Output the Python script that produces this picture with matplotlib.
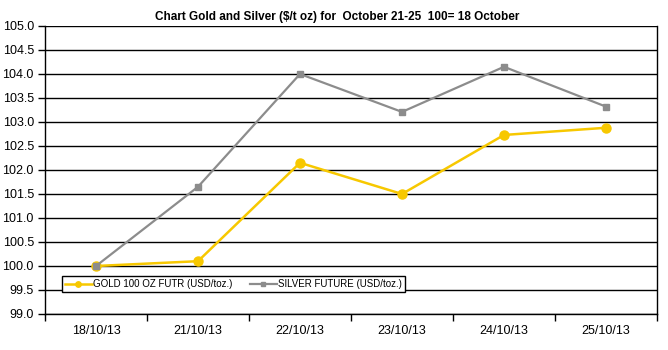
import matplotlib
matplotlib.use("Agg")
import matplotlib.pyplot as plt
import numpy as np

plt.rcParams['font.family'] = ['Liberation Sans', 'DejaVu Sans']

dates = ['18/10/13', '21/10/13', '22/10/13', '23/10/13', '24/10/13', '25/10/13']
gold = [100.0, 100.1, 102.15, 101.5, 102.73, 102.88]
silver = [100.0, 101.65, 104.0, 103.21, 104.15, 103.32]

gold_color = '#F7C800'
silver_color = '#8C8C8C'

fig = plt.figure(figsize=(6.68, 3.5), dpi=100)
ax = fig.add_axes([45 / 668, 36 / 350, 612 / 668, 288 / 350])

x = np.arange(len(dates))
ax.plot(x, gold, color=gold_color, lw=1.8, marker='o', ms=6.5,
        label='GOLD 100 OZ FUTR (USD/toz.)', zorder=3)
ax.plot(x, silver, color=silver_color, lw=1.6, marker='s', ms=4.5,
        label='SILVER FUTURE (USD/toz.)', zorder=4)

ax.set_xlim(-0.5, len(dates) - 0.5)
ax.set_ylim(99.0, 105.0)
ax.set_yticks(np.arange(99.0, 105.01, 0.5))
ax.set_yticklabels([f'{v:.1f}' for v in np.arange(99.0, 105.01, 0.5)], fontsize=9)
ax.yaxis.grid(True, color='black', lw=1)
ax.set_axisbelow(True)

# category labels between the boundary tick marks
ax.set_xticks(np.arange(-0.5, len(dates), 1.0))
ax.set_xticklabels([])
ax.set_xticks(x, minor=True)
ax.set_xticklabels(dates, minor=True, fontsize=9)
ax.tick_params(axis='x', which='minor', length=0, pad=8)
ax.tick_params(axis='x', which='major', length=5, width=1, color='black')
ax.tick_params(axis='y', length=5, width=1, pad=3)

for side in ['left', 'right', 'bottom']:
    ax.spines[side].set_color('black')
    ax.spines[side].set_linewidth(1)
ax.spines['top'].set_visible(False)

leg = ax.legend(loc='lower left', bbox_to_anchor=(12 / 612, 17 / 288), ncol=2,
                fontsize=7, frameon=True, fancybox=False, framealpha=1,
                edgecolor='black', handlelength=2.8, handletextpad=0.1,
                columnspacing=1.8, borderpad=0.3, markerscale=0.6)
leg.get_frame().set_linewidth(1)

fig.text(0.505, 0.952, 'Chart Gold and Silver ($/t oz) for  October 21-25  100= 18 October',
         ha='center', va='center', fontsize=8.5, fontweight='bold')

fig.savefig('out.png', dpi=100)
